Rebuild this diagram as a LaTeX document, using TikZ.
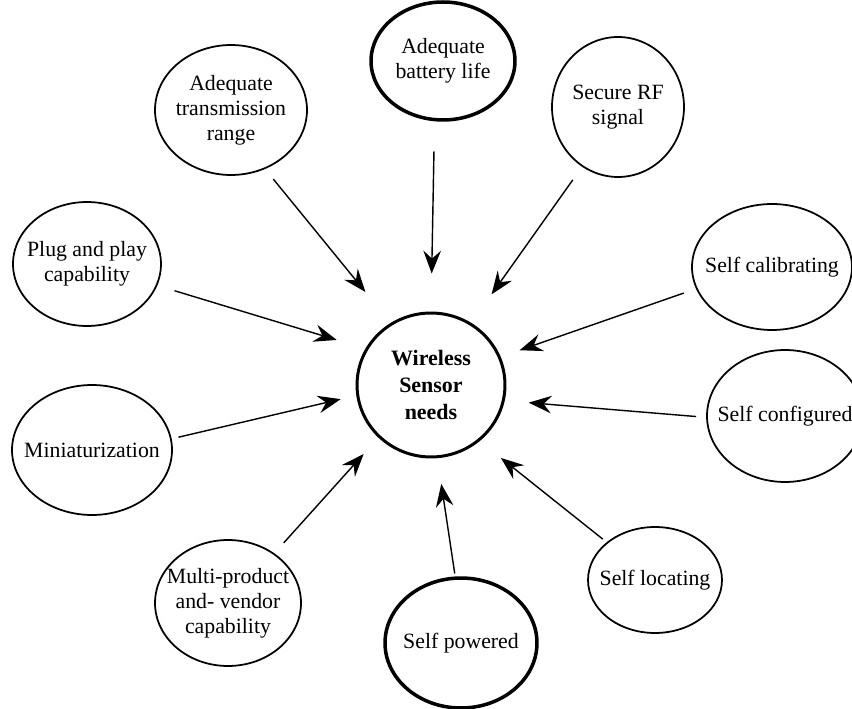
\documentclass[tikz,border=0pt]{standalone}
\usepackage{fontspec}
\setmainfont{Liberation Serif}
\usetikzlibrary{arrows.meta,shapes.geometric}

\begin{document}
\begin{tikzpicture}[x=0.02cm,y=-0.02cm,
  every node/.style={font=\fontsize{12.4}{14.3}\selectfont},
  need/.style={ellipse,draw,line width=1pt,align=center,inner sep=-40pt},
  arr/.style={-{Stealth[length=13pt,width=10pt,inset=4.5pt]},line width=.8pt}]
\clip (0,0) rectangle (852,709);
\node[ellipse,draw,line width=1.7pt,align=center,inner sep=-40pt,minimum width=2.96cm,minimum height=2.88cm,
  font=\fontsize{12.5}{15.5}\selectfont\bfseries] (hub) at (431,385) {Wireless\\Sensor\\needs};
\node[need,line width=2pt,minimum width=2.88cm,minimum height=2.36cm] (battery) at (443,61) {Adequate\\battery life};
\node[need,minimum width=3.04cm,minimum height=2.6cm] (range) at (231,110) {Adequate\\transmission\\range};
\node[need,minimum width=2.64cm,minimum height=2.8cm] (rfsig) at (618,107) {Secure RF\\signal};
\node[need,minimum width=2.96cm,minimum height=2.48cm] (plug) at (87,264) {Plug and play\\capability};
\node[need,minimum width=3.2cm,minimum height=2.52cm] (calib) at (772,267) {Self calibrating};
\node[need,minimum width=3.12cm,minimum height=2.64cm] (config) at (785,416) {Self configured};
\node[need,minimum width=3.2cm,minimum height=2.6cm] (mini) at (92,450) {Miniaturization};
\node[need,minimum width=2.92cm,minimum height=2.52cm] (multi) at (228,603) {Multi-product\\and- vendor\\capability};
\node[need,line width=2pt,minimum width=3.04cm,minimum height=2.6cm] (powered) at (461,643) {Self powered};
\node[need,minimum width=2.68cm,minimum height=2.12cm] (locate) at (655,580) {Self locating};
% arrows into the hub
\draw[arr,shorten <=0.6cm,shorten >=0.76cm] (battery.262) -- (hub.90);
\draw[arr,shorten <=0.26cm,shorten >=0.8cm] (range.300) -- (hub.123);
\draw[arr,shorten <=0.32cm,shorten >=0.7cm] (rfsig.239) -- (hub.57);
\draw[arr,shorten <=0.36cm,shorten >=0.6cm] (plug.343) -- (hub.151);
\draw[arr,shorten <=0.26cm,shorten >=0.4cm] (calib.196) -- (hub.22);
\draw[arr,shorten <=0.2cm,shorten >=0.48cm] (config.181) -- (hub.348);
\draw[arr,shorten <=0.14cm,shorten >=0.32cm] (mini.8) -- (hub.188);
\draw[arr,shorten <=0.28cm,shorten >=0.44cm] (multi.47) -- (hub.225);
\draw[arr,shorten <=0.06cm,shorten >=0.52cm] (powered.95) -- (hub.275);
\draw[arr,shorten <=0.1cm,shorten >=0.54cm] (locate.142) -- (hub.311);
\end{tikzpicture}
\end{document}
